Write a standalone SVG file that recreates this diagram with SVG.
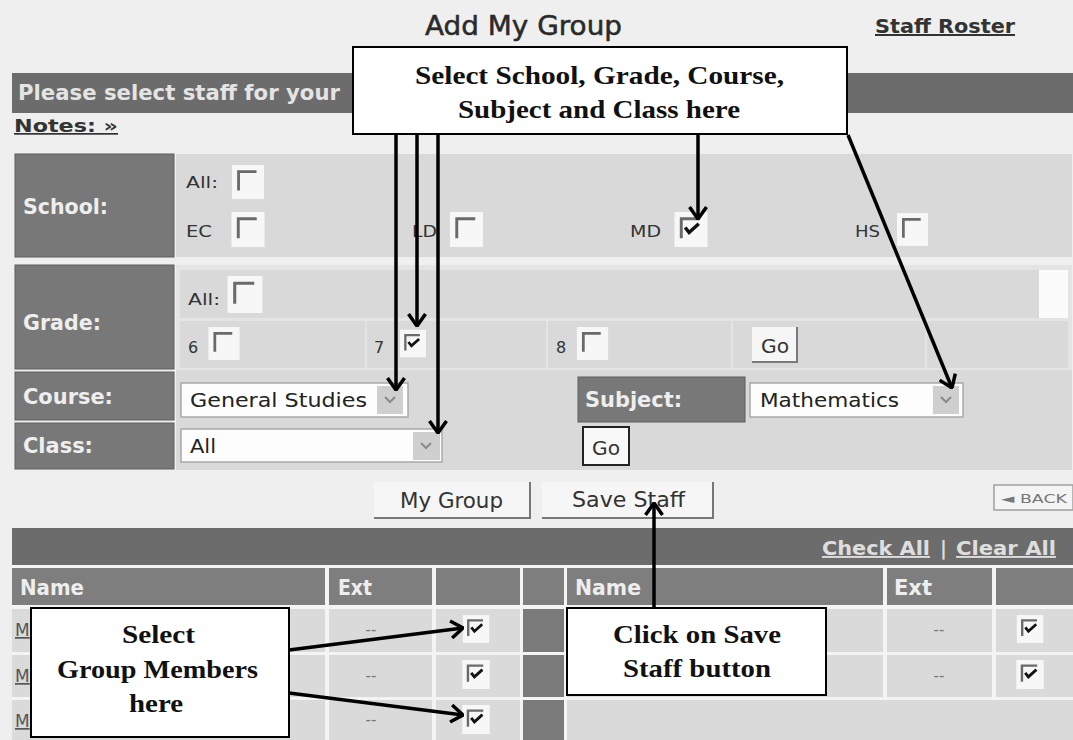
<svg xmlns="http://www.w3.org/2000/svg" xmlns:xlink="http://www.w3.org/1999/xlink" width="1073" height="740" viewBox="0 0 1073 740">
<style>
.ui{font-family:"DejaVu Sans","Liberation Sans",sans-serif}
.lab{font-family:"DejaVu Sans","Liberation Sans",sans-serif;font-weight:bold;fill:#eeeeee;font-size:21px}
.txt{font-family:"DejaVu Sans","Liberation Sans",sans-serif;fill:#333;font-size:16px}
.call{font-family:"Liberation Serif","Times New Roman",serif;font-weight:bold;font-size:25px;fill:#111}
.lbox{fill:#787878;stroke:#5e5e5e;stroke-width:1}
.hcell{fill:#7e7e7e}
.dcell{fill:#dadada}
.cbox{fill:#fff;stroke:#000;stroke-width:2}
.arrow{stroke:#000;stroke-width:3.5;fill:none;marker-end:url(#ah)}
.sel{fill:#fdfdfd;stroke:#a8a8a8;stroke-width:1.5}
.dd{fill:#cfcfcf}
.chev{fill:none;stroke:#8a8a8a;stroke-width:2}
</style>
<defs>
<marker id="ah" viewBox="0 0 14 20" refX="13" refY="10" markerWidth="14" markerHeight="20" markerUnits="userSpaceOnUse" orient="auto">
<path d="M1,1.5 L13,10 L1,18.5" fill="none" stroke="#000" stroke-width="3.5"/>
</marker>
<symbol id="cbU" viewBox="0 0 34 36">
<rect width="34" height="36" fill="#f7f7f7"/>
<path d="M7,27 V7 H26" fill="none" stroke="#6a6a6a" stroke-width="3"/>
</symbol>
<symbol id="cbC" viewBox="0 0 34 36">
<rect width="34" height="36" fill="#f7f7f7"/>
<path d="M7,27 V7 H26" fill="none" stroke="#6a6a6a" stroke-width="3"/>
<path d="M11,16 L15,21 L25,12" fill="none" stroke="#111" stroke-width="3.5"/>
</symbol>
</defs>
<rect width="1073" height="740" fill="#efefef"/>

<g id="header">
<text class="ui" x="425" y="35" font-size="26" fill="#2a2a2a" stroke="#2a2a2a" stroke-width="0.5" textLength="197" lengthAdjust="spacingAndGlyphs">Add My Group</text>
<text class="ui" x="875" y="33" font-size="20" font-weight="bold" fill="#333" text-decoration="underline" textLength="140" lengthAdjust="spacingAndGlyphs">Staff Roster</text>
<rect x="12" y="73" width="1061" height="40" fill="#6c6c6c"/>
<text class="ui" x="18" y="100" font-size="21" font-weight="bold" fill="#e4e4e4" textLength="322" lengthAdjust="spacingAndGlyphs">Please select staff for your</text>
<text class="ui" x="14" y="132" font-size="17" font-weight="bold" fill="#333" text-decoration="underline" textLength="104" lengthAdjust="spacingAndGlyphs">Notes: »</text>
</g>

<g id="school">
<rect class="lbox" x="15" y="154" width="159" height="103"/>
<rect x="176" y="154" width="896" height="103" fill="#d9d9d9"/>
<text class="lab" x="23" y="214" textLength="85" lengthAdjust="spacingAndGlyphs">School:</text>
<text class="txt" x="186" y="188" textLength="32" lengthAdjust="spacingAndGlyphs">All:</text>
<use xlink:href="#cbU" x="231" y="165" width="34" height="34"/>
<text class="txt" x="186" y="237" textLength="26" lengthAdjust="spacingAndGlyphs">EC</text>
<use xlink:href="#cbU" x="231" y="212" width="34" height="35"/>
<text class="txt" x="412" y="237" textLength="25" lengthAdjust="spacingAndGlyphs">LD</text>
<use xlink:href="#cbU" x="449" y="212" width="35" height="35"/>
<text class="txt" x="630" y="237" textLength="31" lengthAdjust="spacingAndGlyphs">MD</text>
<use xlink:href="#cbC" x="674" y="212" width="34" height="35"/>
<text class="txt" x="855" y="237" textLength="25" lengthAdjust="spacingAndGlyphs">HS</text>
<use xlink:href="#cbU" x="897" y="212" width="31" height="35"/>
</g>

<g id="grade">
<rect class="lbox" x="15" y="265" width="159" height="104"/>
<rect x="176" y="265" width="896" height="105" fill="#e4e4e4"/>
<rect x="180" y="270" width="859" height="48" fill="#d9d9d9"/>
<rect x="1039" y="270" width="29" height="48" fill="#fbfbfb"/>
<rect x="180" y="321" width="185" height="47" fill="#d9d9d9"/>
<rect x="367" y="321" width="179" height="47" fill="#d9d9d9"/>
<rect x="548" y="321" width="183" height="47" fill="#d9d9d9"/>
<rect x="733" y="321" width="192" height="47" fill="#d9d9d9"/>
<rect x="927" y="321" width="141" height="47" fill="#d9d9d9"/>
<text class="lab" x="23" y="330" textLength="78" lengthAdjust="spacingAndGlyphs">Grade:</text>
<text class="txt" x="188" y="305" textLength="32" lengthAdjust="spacingAndGlyphs">All:</text>
<use xlink:href="#cbU" x="227" y="276" width="36" height="37"/>
<text class="txt" x="188" y="353">6</text>
<use xlink:href="#cbU" x="207" y="327" width="34" height="33"/>
<text class="txt" x="374" y="353">7</text>
<use xlink:href="#cbC" x="400" y="327" width="26" height="33"/>
<text class="txt" x="556" y="353">8</text>
<use xlink:href="#cbU" x="575" y="327" width="35" height="33"/>
<rect x="752" y="327" width="45" height="35" fill="#f6f6f6"/>
<path d="M752,362 H797 V327" fill="none" stroke="#7a7a7a" stroke-width="2"/>
<text class="ui" x="761" y="353" font-size="19" fill="#333" textLength="28" lengthAdjust="spacingAndGlyphs">Go</text>
</g>

<g id="course-class">
<rect x="176" y="370" width="896" height="100" fill="#d9d9d9"/>
<rect class="lbox" x="15" y="372" width="159" height="48"/>
<rect class="lbox" x="15" y="423" width="159" height="46"/>
<text class="lab" x="23" y="404" textLength="90" lengthAdjust="spacingAndGlyphs">Course:</text>
<text class="lab" x="23" y="453" textLength="70" lengthAdjust="spacingAndGlyphs">Class:</text>
<rect class="sel" x="181" y="383" width="227" height="34"/>
<rect class="dd" x="377" y="386" width="26" height="28"/>
<path class="chev" d="M385,397 L390,402 L395,397"/>
<text class="ui" x="190" y="407" font-size="20" fill="#222" textLength="177" lengthAdjust="spacingAndGlyphs">General Studies</text>
<rect class="sel" x="181" y="429" width="261" height="33"/>
<rect class="dd" x="413" y="432" width="27" height="28"/>
<path class="chev" d="M421,443 L426,448 L431,443"/>
<text class="ui" x="190" y="453" font-size="20" fill="#222" textLength="26" lengthAdjust="spacingAndGlyphs">All</text>
<rect class="lbox" x="578" y="377" width="167" height="45"/>
<text class="lab" x="585" y="407" textLength="97" lengthAdjust="spacingAndGlyphs">Subject:</text>
<rect class="sel" x="750" y="383" width="213" height="34"/>
<rect class="dd" x="933" y="386" width="26" height="28"/>
<path class="chev" d="M941,397 L946,402 L951,397"/>
<text class="ui" x="760" y="407" font-size="20" fill="#222" textLength="139" lengthAdjust="spacingAndGlyphs">Mathematics</text>
<rect x="583" y="427" width="46" height="38" fill="#f8f8f8" stroke="#222" stroke-width="2"/>
<text class="ui" x="592" y="455" font-size="19" fill="#333" textLength="28" lengthAdjust="spacingAndGlyphs">Go</text>
</g>

<g id="buttons">
<rect x="374" y="482" width="156" height="36" fill="#f6f6f6"/>
<path d="M374,518 H530 V482" fill="none" stroke="#777" stroke-width="2"/>
<text class="ui" x="400" y="508" font-size="21" fill="#333" textLength="103" lengthAdjust="spacingAndGlyphs">My Group</text>
<rect x="542" y="482" width="171" height="36" fill="#f6f6f6"/>
<path d="M542,518 H713 V482" fill="none" stroke="#777" stroke-width="2"/>
<text class="ui" x="572" y="507" font-size="21" fill="#333" textLength="113" lengthAdjust="spacingAndGlyphs">Save Staff</text>
<rect x="994" y="485" width="79" height="25" fill="#f4f4f4" stroke="#a0a0a0" stroke-width="1.5"/>
<text class="ui" x="1001" y="503" font-size="13" fill="#777" textLength="66" lengthAdjust="spacingAndGlyphs">◄ BACK</text>
</g>

<g id="staff-table">
<rect x="12" y="528" width="1061" height="37" fill="#6c6c6c"/>
<text class="ui" x="822" y="555" font-size="19" font-weight="bold" fill="#dedede" text-decoration="underline" textLength="108" lengthAdjust="spacingAndGlyphs">Check All</text>
<text class="ui" x="940" y="555" font-size="19" font-weight="bold" fill="#dedede">|</text>
<text class="ui" x="956" y="555" font-size="19" font-weight="bold" fill="#dedede" text-decoration="underline" textLength="100" lengthAdjust="spacingAndGlyphs">Clear All</text>
<rect x="12" y="565" width="1061" height="175" fill="#f4f4f4"/>
<rect class="hcell" x="12" y="568" width="313" height="37"/>
<rect class="hcell" x="329" y="568" width="103" height="37"/>
<rect class="hcell" x="436" y="568" width="84" height="37"/>
<rect class="hcell" x="523" y="568" width="41" height="37"/>
<rect class="hcell" x="567" y="568" width="316" height="37"/>
<rect class="hcell" x="887" y="568" width="105" height="37"/>
<rect class="hcell" x="996" y="568" width="77" height="37"/>
<text class="lab" x="20" y="595" font-size="19" textLength="64" lengthAdjust="spacingAndGlyphs">Name</text>
<text class="lab" x="338" y="595" font-size="19" textLength="34" lengthAdjust="spacingAndGlyphs">Ext</text>
<text class="lab" x="575" y="595" font-size="19" textLength="66" lengthAdjust="spacingAndGlyphs">Name</text>
<text class="lab" x="894" y="595" font-size="19" textLength="38" lengthAdjust="spacingAndGlyphs">Ext</text>
<g id="row1">
<rect class="dcell" x="12" y="609" width="313" height="43"/>
<rect class="dcell" x="329" y="609" width="103" height="43"/>
<rect class="dcell" x="436" y="609" width="84" height="43"/>
<rect x="523" y="609" width="41" height="43" fill="#7a7a7a"/>
<rect class="dcell" x="567" y="609" width="316" height="43"/>
<rect class="dcell" x="887" y="609" width="105" height="43"/>
<rect class="dcell" x="996" y="609" width="77" height="43"/>
</g>
<g id="row2">
<rect class="dcell" x="12" y="655" width="313" height="42"/>
<rect class="dcell" x="329" y="655" width="103" height="42"/>
<rect class="dcell" x="436" y="655" width="84" height="42"/>
<rect x="523" y="655" width="41" height="42" fill="#7a7a7a"/>
<rect class="dcell" x="567" y="655" width="316" height="42"/>
<rect class="dcell" x="887" y="655" width="105" height="42"/>
<rect class="dcell" x="996" y="655" width="77" height="42"/>
</g>
<g id="row3">
<rect class="dcell" x="12" y="700" width="313" height="40"/>
<rect class="dcell" x="329" y="700" width="103" height="40"/>
<rect class="dcell" x="436" y="700" width="84" height="40"/>
<rect x="523" y="700" width="41" height="40" fill="#7a7a7a"/>
<rect class="dcell" x="567" y="700" width="506" height="40"/>
</g>
<text class="ui" x="15" y="636" font-size="17" fill="#555" text-decoration="underline">M</text>
<text class="ui" x="15" y="682" font-size="17" fill="#555" text-decoration="underline">M</text>
<text class="ui" x="15" y="727" font-size="17" fill="#555" text-decoration="underline">M</text>
<text class="ui" x="371" y="635" font-size="15" fill="#777" text-anchor="middle">--</text>
<text class="ui" x="371" y="681" font-size="15" fill="#777" text-anchor="middle">--</text>
<text class="ui" x="371" y="725" font-size="15" fill="#777" text-anchor="middle">--</text>
<text class="ui" x="939" y="635" font-size="15" fill="#777" text-anchor="middle">--</text>
<text class="ui" x="939" y="681" font-size="15" fill="#777" text-anchor="middle">--</text>
<use xlink:href="#cbC" x="462" y="615" width="28" height="28"/>
<use xlink:href="#cbC" x="462" y="660" width="28" height="29"/>
<use xlink:href="#cbC" x="462" y="705" width="28" height="29"/>
<use xlink:href="#cbC" x="1016" y="615" width="28" height="28"/>
<use xlink:href="#cbC" x="1016" y="660" width="28" height="29"/>
</g>

<g id="callout-select">
<rect class="cbox" x="353" y="47" width="494" height="87"/>
<text class="call" x="415" y="84" textLength="369" lengthAdjust="spacingAndGlyphs">Select School, Grade, Course,</text>
<text class="call" x="458" y="118" textLength="282" lengthAdjust="spacingAndGlyphs">Subject and Class here</text>
</g>

<g id="callout-members">
<rect class="cbox" x="31" y="608" width="258" height="129"/>
<text class="call" x="122" y="643" textLength="73" lengthAdjust="spacingAndGlyphs">Select</text>
<text class="call" x="57" y="678" textLength="201" lengthAdjust="spacingAndGlyphs">Group Members</text>
<text class="call" x="129" y="712" textLength="54" lengthAdjust="spacingAndGlyphs">here</text>
</g>

<g id="callout-save">
<rect class="cbox" x="567" y="608" width="259" height="87"/>
<text class="call" x="613" y="643" textLength="168" lengthAdjust="spacingAndGlyphs">Click on Save</text>
<text class="call" x="623" y="677" textLength="148" lengthAdjust="spacingAndGlyphs">Staff button</text>
</g>

<g id="connectors">
<line class="arrow" x1="396" y1="135" x2="396" y2="390"/>
<line class="arrow" x1="417" y1="135" x2="417" y2="326"/>
<line class="arrow" x1="438" y1="135" x2="438" y2="433"/>
<line class="arrow" x1="698" y1="135" x2="698" y2="219"/>
<line class="arrow" x1="848" y1="135" x2="952" y2="388"/>
<line class="arrow" x1="654" y1="607" x2="654" y2="503"/>
<line class="arrow" x1="289" y1="650" x2="463" y2="628"/>
<line class="arrow" x1="289" y1="693" x2="463" y2="715"/>
</g>
</svg>
